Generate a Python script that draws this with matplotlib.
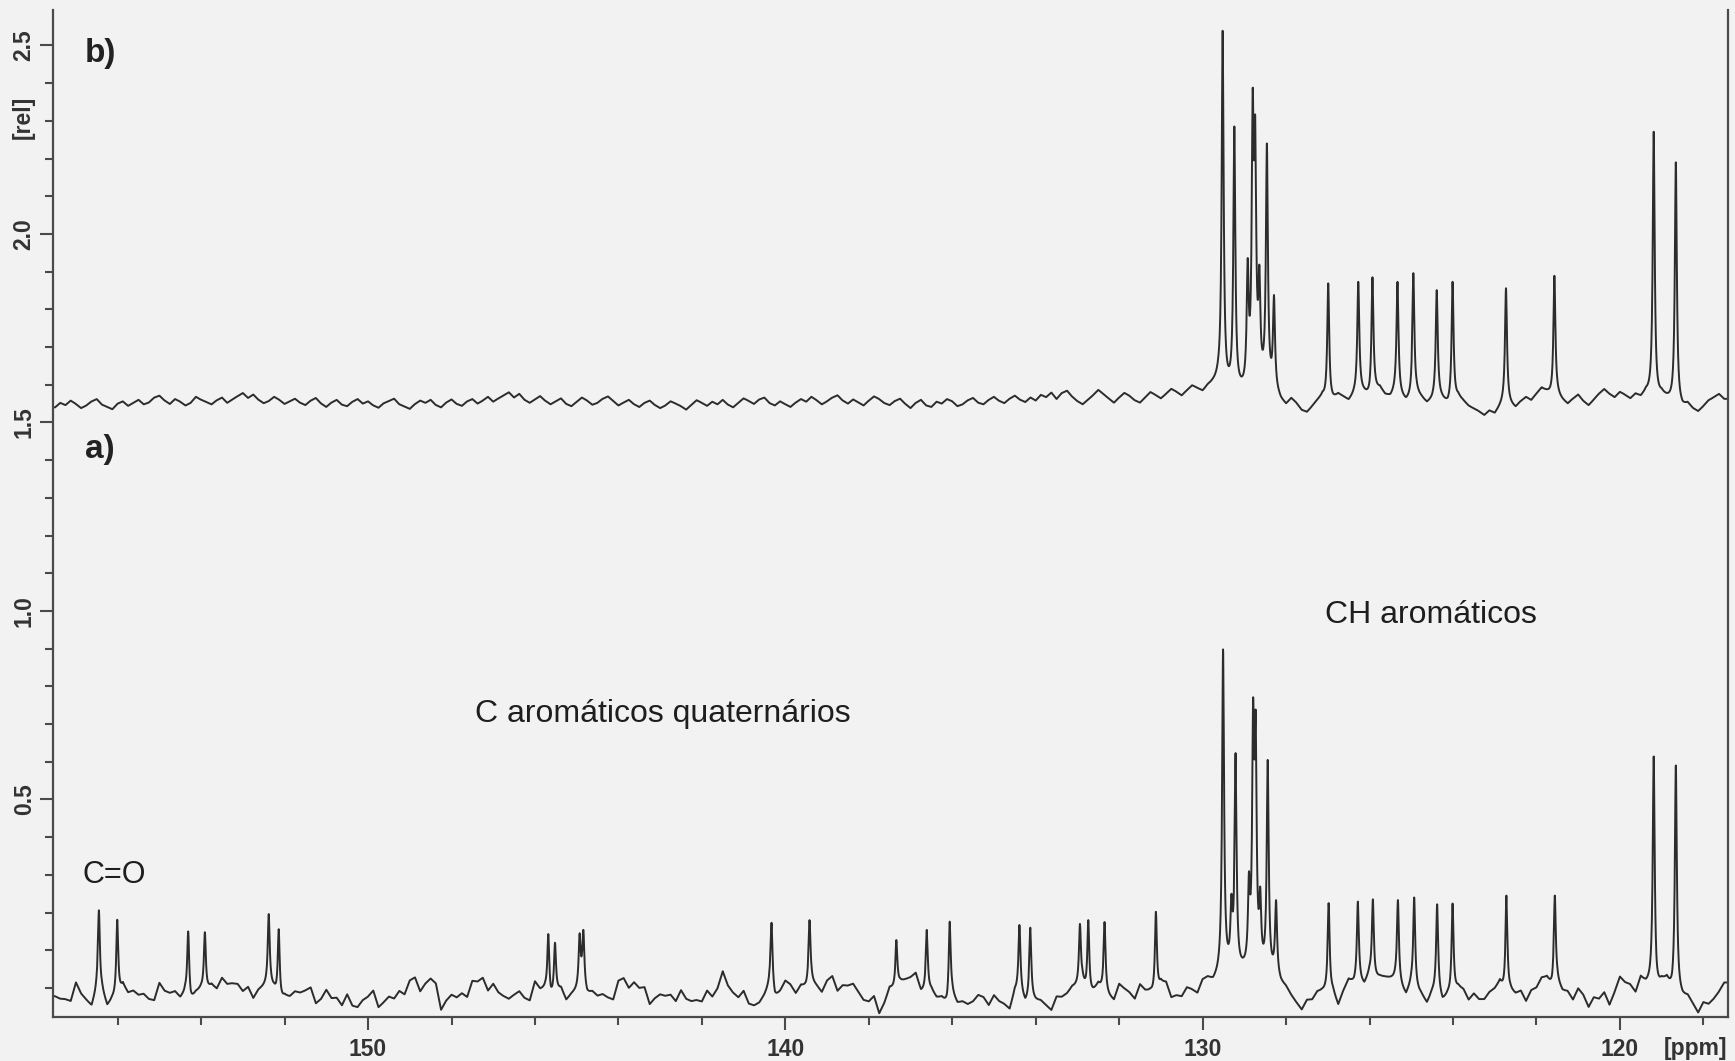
import numpy as np
import matplotlib
matplotlib.use("Agg")
import matplotlib.pyplot as plt
from matplotlib.ticker import MultipleLocator
import matplotlib.transforms as mtransforms

plt.rcParams["font.family"] = ["Liberation Sans", "DejaVu Sans"]

# ---- trace a): full 13C spectrum -------------------------------------------
peaks_a_ppm = [156.45, 156.01, 154.31, 153.91, 152.38, 152.14,
               145.68, 145.52, 144.93, 144.84, 140.33, 139.42,
               137.34, 136.61, 136.06, 134.39, 134.13, 132.94, 132.74, 132.35,
               131.12, 129.51, 129.31, 129.21, 128.89, 128.79, 128.73, 128.62,
               128.44, 128.24, 126.98, 126.28, 125.92, 125.32, 124.93, 124.38,
               124.01, 122.72, 121.56, 119.19, 118.66]
peaks_a_top = [0.206, 0.181, 0.150, 0.148, 0.196, 0.156,
               0.143, 0.120, 0.145, 0.154, 0.173, 0.180,
               0.127, 0.154, 0.176, 0.167, 0.160, 0.170, 0.180, 0.175,
               0.202, 0.898, 0.250, 0.623, 0.309, 0.769, 0.737, 0.269,
               0.605, 0.233, 0.225, 0.229, 0.235, 0.233, 0.240, 0.222,
               0.224, 0.245, 0.245, 0.614, 0.590]

# baseline of trace a), sampled every 0.125 ppm starting at 157.5 ppm
# (thousandths of the intensity unit): slow drift ...
base_a_milli = [
    -30, -23, -33, -24, 2, -12, -40, -37, -14, -20, -42, -33, -11, -2, -11, -19,
    -10, -20, -43, -26, 12, 4, -20, -25, -17, -16, -32, -25, -1, 6, -1, -3,
    15, 19, 7, -4, -3, 0, -15, -13, 6, -1, -22, -34, -26, -13, -16, -12,
    5, -8, -38, -36, -18, -17, -30, -40, -29, -33, -52, -40, -16, -22, -46, -44,
    -25, -15, -18, -13, 12, 14, 0, 7, 26, 1, -42, -40, -21, -17, -26, -18,
    10, 19, 12, 4, 7, -5, -35, -29, -6, -15, -37, -29, -1, 4, -6, -19,
    -20, -15, -28, -21, 2, 0, -15, -25, -14, -18, -37, -18, 14, 18, 4, -1,
    10, -2, -28, -36, -23, -19, -30, -26, -9, -17, -42, -45, -31, -17, -16, -3,
    30, 14, -18, -24, -18, -28, -55, -43, -14, -9, -17, -14, 9, 11, -3, -5,
    5, 7, -8, -3, 17, 15, -2, -1, 19, 6, -22, -30, -26, -35, -61, -44,
    -10, 8, 12, 12, 32, 24, 0, -13, -14, -19, -42, -42, -26, -29, -46, -46,
    -25, -24, -38, -39, -28, -33, -55, -43, -14, -19, -37, -42, -26, -36, -61, -52,
    -30, -15, -18, -14, 7, 3, -15, -20, -4, -8, -27, -20, -1, -2, -21, -21,
    -5, -5, -18, -16, 7, 1, -20, -23, -14, -9, -22, -10, 19, 24, 14, 27,
    40, 40, 40, 40, 40, 38, 35, 35, 35, 33, 30, 9, -1, -17, -51, -56,
    -45, -25, -18, -23, -8, -15, -37, -17, 16, 19, 3, 8, 29, 33, 22, 16,
    30, 17, -13, -12, 2, -5, -30, -31, -16, -17, -32, -29, -6, -4, -18, -28,
    -25, -20, -33, -19, 12, 5, -15, -22, -9, -14, -35, -19, 9, 20, 12, 3,
    10, 3, -18, -26, -13, -20, -42, -39, -24, -19, -32, -15, 19, 16, -1, -3,
    15, 17, 2, 1, 12, 10, -10, -20, -14, -29, -57, -59, -41, -31, -36, -14,
    20]
# ... and the fine grass riding on it
grass_a_milli = [
    8, -6, 3, -11, 12, -4, 7, -13, 5, 10, -8, 2, -14, 9, -3, 11,
    -9, 4, 13, -7, 1, -12, 6, 15, -10, 3, -5, 12, -2, -15, 8, 0,
    11, -9, 5, 14, -6, 2, -13, 7, -4, 10, 16, -8, 3, -11, 6, -1,
    -12, 9, -3, 7, 13, -10, 4, -6, 12, -14, 1, 8, -7, 15, -5, 6,
    2, -13, 10, -4, 8, 14, -9, 5, -1, 11, -16, 7, 3, -8, 12, -6,
    9, -2, 15, -11, 4, -7, 13, 0, -12, 6, 10, -5, 17, -9, 2, -14,
    7, 12, -6, 3, -10, 9, -3, 14, -8, 1, 11, -13, 5, 8, -4, 16,
    -10, 4, -15, 9, 6, -2, 12, -9, 3, -12, 7, 13, -5, 10, -7, 2,
    14, -8, 5, -1, 10, -14, 8, 3, -6, 15, -11, 4, 9, -3, -12, 11,
    -4, 7, 12, -9, 2, 16, -6, 8, -13, 5, 11, -2, -10, 13, -7, 4,
    10, -12, 3, 9, -5, 14, -10, 1, 7, -8, 15, -4, 6, -13, 9, 2,
    -11, 5, 13, -7, 8, -3, 11, -15, 4, 10, -6, 12, -9, 1, 14, -8,
    6, -10, 2, 15, -4, 9, -12, 7, 11, -5, 3, -14, 10, -1, 8, -9,
    13, -3, 7, -11, 5, 12, -7, 2, -10, 9, 16, -6, 0, 0, 0, 0,
    0, 0, 0, 0, 0, 0, 0, 0, 0, 0, 0, 0, 0, -6, 9, -4,
    11, -8, 6, 13, -5, 2, -11, 8, 4, -9, 12, -3, 7, -13, 5, 10,
    -7, 3, 14, -10, 6, -2, 9, -12, 1, 11, -6, 8, -14, 4, 12, -5,
    9, -11, 2, 7, -15, 10, -3, 13, -8, 5, -1, 12, -9, 6, 15, -4,
    3, -12, 8, -6, 11, 1, -9, 14, -5, 7, -13, 4, 10, -2, 9, -10,
    12, -7, 5, -14, 3, 10, -4, 8, -11, 6, 13, -8, 2, -12, 7, 4,
    -6]

# ---- trace b): CH-only spectrum, drawn above trace a) ---------------------
peaks_b_ppm = [129.52, 129.24, 128.92, 128.80, 128.74, 128.64, 128.46, 128.29,
               126.99, 126.27, 125.93, 125.33, 124.95, 124.39, 124.01,
               122.73, 121.57, 119.19, 118.66]
peaks_b_top = [2.539, 2.285, 1.936, 2.386, 2.316, 1.918, 2.240, 1.838,
               1.869, 1.873, 1.885, 1.873, 1.896, 1.851, 1.873,
               1.856, 1.889, 2.271, 2.190]

base_b_milli = [
    1540, 1552, 1546, 1558, 1549, 1538, 1545, 1556, 1562, 1547, 1541, 1535, 1550, 1556, 1544, 1552,
    1560, 1548, 1553, 1566, 1571, 1558, 1549, 1562, 1555, 1545, 1552, 1568, 1560, 1554, 1548, 1559,
    1566, 1552, 1561, 1570, 1578, 1565, 1574, 1560, 1551, 1557, 1568, 1560, 1549, 1556, 1563, 1552,
    1546, 1558, 1565, 1550, 1541, 1553, 1560, 1547, 1543, 1555, 1562, 1550, 1556, 1545, 1539, 1551,
    1557, 1563, 1548, 1542, 1536, 1549, 1558, 1552, 1560, 1546, 1540, 1553, 1561, 1549, 1544, 1556,
    1562, 1550, 1558, 1568, 1555, 1564, 1572, 1580, 1566, 1576, 1560, 1552, 1561, 1570, 1557, 1548,
    1556, 1564, 1549, 1543, 1555, 1566, 1558, 1547, 1552, 1563, 1569, 1557, 1545, 1553, 1560, 1548,
    1541, 1552, 1558, 1546, 1538, 1545, 1556, 1550, 1543, 1534, 1547, 1559, 1552, 1544, 1555, 1548,
    1560, 1547, 1540, 1552, 1564, 1557, 1549, 1561, 1566, 1551, 1545, 1556, 1548, 1541, 1553, 1562,
    1555, 1568, 1559, 1548, 1556, 1566, 1572, 1558, 1550, 1561, 1553, 1545, 1558, 1569, 1562, 1551,
    1546, 1557, 1563, 1549, 1538, 1552, 1560, 1545, 1541, 1555, 1550, 1562, 1556, 1543, 1548, 1559,
    1565, 1552, 1548, 1560, 1568, 1557, 1551, 1563, 1571, 1560, 1554, 1566, 1558, 1573, 1567, 1579,
    1562, 1578, 1584, 1568, 1556, 1548, 1560, 1572, 1586, 1575, 1563, 1552, 1566, 1578, 1570, 1558,
    1552, 1566, 1580, 1572, 1563, 1575, 1588, 1580, 1570, 1584, 1596, 1588, 1580, 1594, 1600, 1605,
    1585, 1582, 1578, 1577, 1575, 1583, 1590, 1591, 1592, 1584, 1575, 1554, 1543, 1560, 1548, 1530,
    1525, 1540, 1556, 1568, 1550, 1558, 1572, 1565, 1555, 1570, 1582, 1574, 1563, 1580, 1588, 1570,
    1565, 1578, 1566, 1552, 1560, 1573, 1562, 1548, 1556, 1570, 1558, 1545, 1552, 1566, 1555, 1542,
    1535, 1528, 1518, 1530, 1522, 1540, 1556, 1546, 1538, 1555, 1566, 1558, 1575, 1590, 1580, 1568,
    1570, 1558, 1548, 1562, 1573, 1556, 1545, 1560, 1576, 1588, 1575, 1566, 1580, 1572, 1562, 1574,
    1566, 1578, 1568, 1560, 1572, 1562, 1552, 1545, 1538, 1548, 1535, 1528, 1542, 1558, 1566, 1575,
    1562]

BASE_START_PPM = 157.5
BASE_STEP_PPM = 0.125

x_ticks = [150, 140, 130, 120]
x_tick_labels = ["150", "140", "130", "120"]
y_ticks = [0.5, 1.0, 1.5, 2.0, 2.5]
y_tick_labels = ["0.5", "1.0", "1.5", "2.0", "2.5"]

X_LEFT, X_RIGHT = 157.55, 117.41
Y_BOTTOM, Y_TOP = -0.077, 2.594
HALF_WIDTH = 0.028  # Lorentzian half width at half maximum, ppm


def build_trace(grid, base_milli, pk_ppm, pk_top, hw):
    by = np.asarray(base_milli, dtype=float) / 1000.0
    bx = BASE_START_PPM - BASE_STEP_PPM * np.arange(len(by))
    bx, by = bx[::-1], by[::-1]
    base = np.interp(grid, bx, by)
    x0 = np.asarray(pk_ppm, dtype=float)
    target = np.asarray(pk_top) - np.interp(x0, bx, by)
    # amplitudes chosen so that every apex lands on its listed intensity
    overlap = hw ** 2 / ((x0[:, None] - x0[None, :]) ** 2 + hw ** 2)
    amp = np.linalg.solve(overlap, target)
    lines = amp[None, :] * hw ** 2 / ((grid[:, None] - x0[None, :]) ** 2 + hw ** 2)
    return base + lines.sum(axis=1)


knots = BASE_START_PPM - BASE_STEP_PPM * np.arange(len(base_a_milli))
grid = np.union1d(np.linspace(X_RIGHT, X_LEFT, 9000),
                  np.concatenate([peaks_a_ppm, peaks_b_ppm, knots]))
baseline_a = np.asarray(base_a_milli) + np.asarray(grass_a_milli)
trace_a = build_trace(grid, baseline_a, peaks_a_ppm, peaks_a_top, HALF_WIDTH)
trace_b = build_trace(grid, base_b_milli, peaks_b_ppm, peaks_b_top, HALF_WIDTH)

paper = "#f2f2f2"
ink = "#2c2c2c"
axis_ink = "#4a4a4a"

fig = plt.figure(figsize=(17.35, 10.61), dpi=100, facecolor=paper)
ax = fig.add_axes([53 / 1735, 44 / 1061, 1675 / 1735, 1007 / 1061])
ax.set_facecolor(paper)

ax.plot(grid, trace_a, color=ink, lw=1.4)
ax.plot(grid, trace_b, color=ink, lw=1.4)

ax.set_xlim(X_LEFT, X_RIGHT)
ax.set_ylim(Y_BOTTOM, Y_TOP)

ax.spines["top"].set_visible(False)
for side in ("left", "right", "bottom"):
    ax.spines[side].set_color(axis_ink)
    ax.spines[side].set_linewidth(1.6)

ax.set_xticks(x_ticks)
ax.set_xticklabels(x_tick_labels, fontsize=16.5, fontweight="bold", color="#333333")
ax.xaxis.set_minor_locator(MultipleLocator(2))
ax.set_yticks(y_ticks)
ax.set_yticklabels(y_tick_labels, fontsize=16.5, fontweight="bold", color="#333333",
                   rotation=90, va="center")
ax.yaxis.set_minor_locator(MultipleLocator(0.1))

ax.tick_params(axis="both", which="both", direction="out", color=axis_ink, width=1.5)
ax.tick_params(axis="x", which="major", length=9, pad=6)
ax.tick_params(axis="x", which="minor", length=6)
ax.tick_params(axis="y", which="major", length=9.5, pad=3)
ax.tick_params(axis="y", which="minor", length=6)
ax.tick_params(axis="y", which="both", right=False)
ax.tick_params(axis="x", which="both", top=False)

# unit labels on the axes
y_side = mtransforms.blended_transform_factory(ax.transAxes, ax.transData)
ax.annotate("[rel]", xy=(0, 2.31), xycoords=y_side, xytext=(-18, 0),
            textcoords="offset pixels", rotation=90, ha="right", va="center",
            fontsize=16.5, fontweight="bold", color="#333333", annotation_clip=False)
x_side = mtransforms.blended_transform_factory(ax.transData, ax.transAxes)
ax.annotate("[ppm]", xy=(118.2, 0), xycoords=x_side, xytext=(0, -20),
            textcoords="offset pixels", ha="center", va="top",
            fontsize=16.5, fontweight="bold", color="#333333", annotation_clip=False)

# panel letters and assignments
ax.text(156.78, 2.457, "b)", fontsize=24, fontweight="bold", color="#222222",
        ha="left", va="baseline")
ax.text(156.78, 1.405, "a)", fontsize=24, fontweight="bold", color="#222222",
        ha="left", va="baseline")
ax.text(156.85, 0.278, "C=O", fontsize=22, color="#1e1e1e", ha="left", va="baseline")
ax.text(147.44, 0.706, "C aromáticos quaternários", fontsize=23, color="#1e1e1e",
        ha="left", va="baseline")
ax.text(127.07, 0.967, "CH aromáticos", fontsize=23, color="#1e1e1e",
        ha="left", va="baseline")

fig.savefig("out.png", dpi=100, facecolor=paper)
